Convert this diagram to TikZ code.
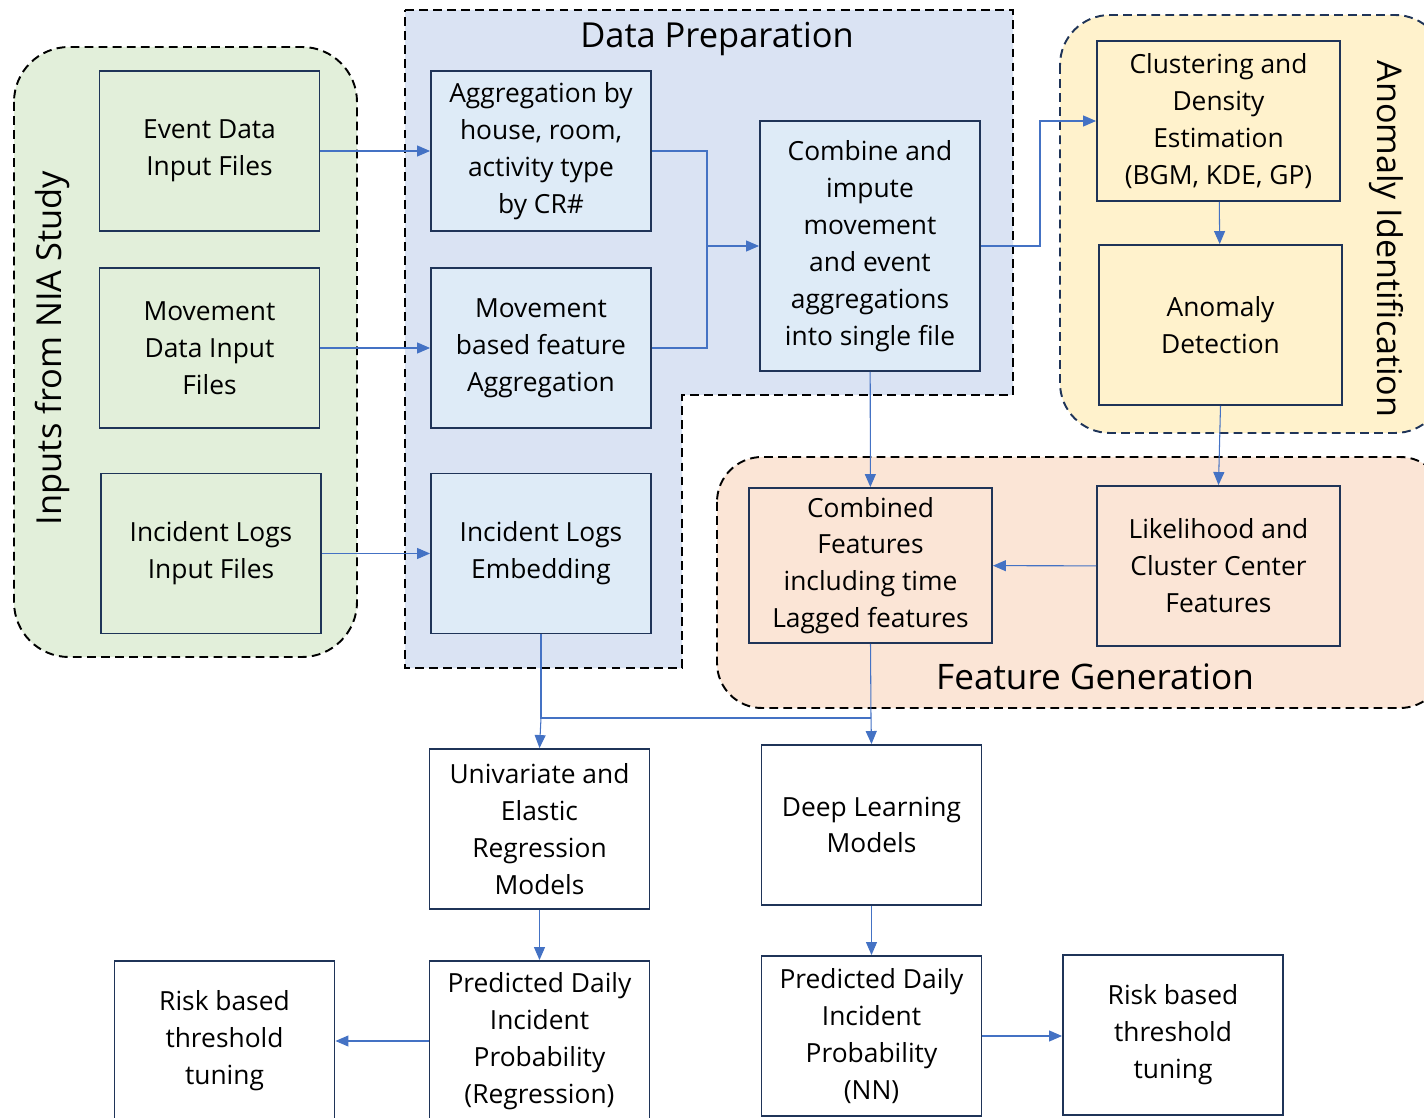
\documentclass[tikz,border=0pt]{standalone}
\usepackage{fontspec}
\setmainfont{Open Sans}
\usetikzlibrary{positioning,arrows.meta,calc}
\definecolor{boxline}{HTML}{1F3458}
\definecolor{linkblue}{HTML}{4472C4}
\definecolor{greenfill}{HTML}{E2EFDA}
\definecolor{bluefill}{HTML}{DAE3F3}
\definecolor{boxblue}{HTML}{DEEBF7}
\definecolor{yellowfill}{HTML}{FFF2CC}
\definecolor{orangefill}{HTML}{FBE5D6}

\begin{document}
\begin{tikzpicture}[x=0.02cm,y=-0.02cm,
    box/.style={draw=boxline, line width=1.1pt, minimum width=4.4cm, minimum height=3.2cm,
      align=center, inner sep=2pt, font=\fontsize{15}{21}\selectfont,
      execute at begin node={\rule{0pt}{15.5pt}}},
    widebox/.style={box, minimum width=4.86cm},
    region/.style={line width=1.1pt, dash pattern=on 5pt off 3pt},
    title/.style={font=\fontsize{19.6}{24}\selectfont},
    link/.style={draw=linkblue, line width=0.6pt, -{Triangle[length=0.26cm,width=0.22cm]}},
    linkline/.style={draw=linkblue, line width=0.6pt},
]
\clip (0,0) rectangle (1424,1118);
% regions
\draw[region, fill=greenfill, rounded corners=1.1cm] (14,47) rectangle (357,657);
\draw[region, fill=bluefill] (405,10) -- (1013,10) -- (1013,395) -- (682,395)
  -- (682,668) -- (405,668) -- cycle;
\draw[region, draw=boxline, fill=yellowfill, rounded corners=1cm] (1060,15) rectangle (1445,433);
\draw[region, fill=orangefill, rounded corners=0.9cm] (717,457) rectangle (1445,708);

\node[title, rotate=90] (nia) at (52,348) {Inputs from NIA Study};
\node[title] (prep) at (717,39) {Data Preparation};
\node[title, rotate=-90, font=\fontsize{19.4}{24}\selectfont] (anomtitle) at (1386,239) {Anomaly Identification};
\node[title, font=\fontsize{20}{24}\selectfont] (featgen) at (1095,677) {Feature Generation};

% inputs
\node[box, fill=greenfill] (event) at (209.5,151) {Event Data\\Input Files};
\node[box, fill=greenfill] (move) at (209.5,348) {Movement\\Data Input\\Files};
\node[box, fill=greenfill] (incident) at (211,553.5) {Incident Logs\\Input Files};

% data preparation
\node[box, fill=boxblue] (agg) at (541,151) {Aggregation by\\house, room,\\activity type\\by CR\#};
\node[box, fill=boxblue] (moveagg) at (541,348) {Movement\\based feature\\Aggregation};
\node[box, fill=boxblue] (embed) at (541,553.5) {Incident Logs\\Embedding};
\node[box, fill=boxblue, minimum height=5cm] (combine) at (870,246) {Combine and\\impute\\movement\\and event\\aggregations\\into single file};

% anomaly identification
\node[widebox, fill=yellowfill] (cluster) at (1218.5,121) {Clustering and\\Density\\Estimation\\(BGM, KDE, GP)};
\node[widebox, fill=yellowfill] (detect) at (1220.5,325) {Anomaly\\Detection};

% feature generation
\node[widebox, fill=orangefill, minimum height=3.1cm] (combined) at (870.5,565.5) {Combined\\Features\\including time\\Lagged features};
\node[widebox, fill=orangefill] (likeli) at (1218.5,566) {Likelihood and\\Cluster Center\\Features};

% models
\node[box] (univ) at (539.5,829) {Univariate and\\Elastic\\Regression\\Models};
\node[box] (deep) at (871.5,825) {Deep Learning\\Models};
\node[box] (predreg) at (539.5,1041) {Predicted Daily\\Incident\\Probability\\(Regression)};
\node[box] (prednn) at (871.5,1036) {Predicted Daily\\Incident\\Probability\\(NN)};
\node[box] (riskl) at (224.5,1041) {Risk based\\threshold\\tuning};
\node[box] (riskr) at (1173,1035) {Risk based\\threshold\\tuning};

% connectors
\coordinate (prepjoin) at (707,246);
\coordinate (anomjoin) at (1040,246);
\coordinate (busl) at (541,718);
\coordinate (busr) at (871,718);
\draw[link] (event.east) -- (agg.west);
\draw[link] (move.east) -- (moveagg.west);
\draw[link] (incident.east) -- (embed.west);
\draw[linkline] (agg.east) -| (prepjoin);
\draw[linkline] (moveagg.east) -| (prepjoin);
\draw[link] (prepjoin) -- (combine.west);
\draw[link] (combine.east) -- (anomjoin) |- (cluster.west);
\draw[link] (cluster) -- (detect);
\draw[link] (detect.south) -- (likeli.north);
\draw[link] (combine) -- (combined);
\draw[link] (likeli) -- (combined);
\draw[linkline] (embed.south) -- (busl) -- (busr);
\draw[linkline] (combined.south) -- (busr);
\draw[link] (busl) -- (univ.north);
\draw[link] (busr) -- (deep.north);
\draw[link] (univ) -- (predreg);
\draw[link] (deep) -- (prednn);
\draw[link] (predreg.west) -- (predreg.west -| riskl.east);
\draw[link] (prednn.east) -- (prednn.east -| riskr.west);
\end{tikzpicture}
\end{document}
